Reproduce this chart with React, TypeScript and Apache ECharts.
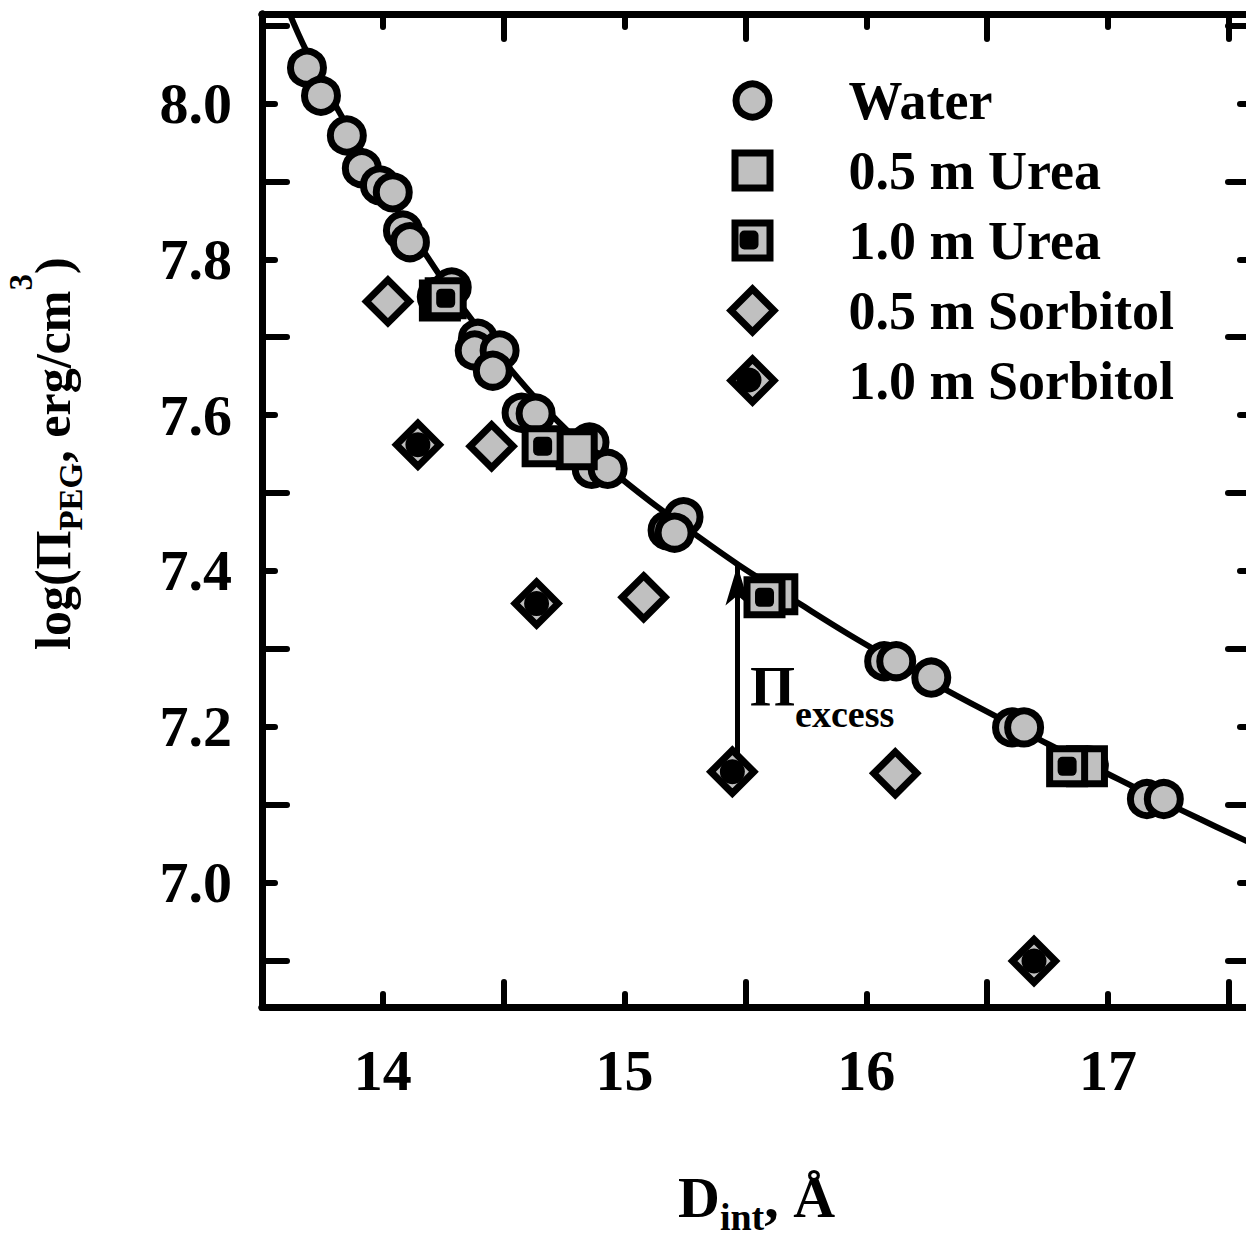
import React, { useEffect, useRef } from 'react';
import * as echarts from 'echarts';

const FONT = '"Liberation Serif", "Times New Roman", Times, serif';
const GRAY = '#c0c0c0';

// ---- data ----
const WATER_X = [13.686, 13.744, 13.851, 13.913, 13.988, 14.041, 14.083, 14.112, 14.223, 14.285, 14.393, 14.38, 14.483, 14.455, 14.574, 14.632, 14.855, 14.864, 14.93, 15.178, 15.244, 15.207, 16.074, 16.124, 16.269, 16.603, 16.653, 16.921, 17.161, 17.231];
const WATER_Y = [8.046, 8.01, 7.959, 7.917, 7.895, 7.886, 7.837, 7.822, 7.752, 7.764, 7.698, 7.683, 7.683, 7.657, 7.603, 7.602, 7.565, 7.531, 7.531, 7.452, 7.469, 7.449, 7.284, 7.284, 7.263, 7.199, 7.199, 7.15, 7.107, 7.107];

const UREA05_X = [14.236, 14.802, 15.632, 16.913];
const UREA05_Y = [7.747, 7.556, 7.37, 7.149];
const UREA10_X = [14.26, 14.661, 15.579, 16.831];
const UREA10_Y = [7.75, 7.56, 7.366, 7.149];

const SORB05_X = [14.021, 14.45, 15.079, 16.12];
const SORB05_Y = [7.746, 7.56, 7.366, 7.14];
const SORB10_X = [14.145, 14.636, 15.446, 16.694];
const SORB10_Y = [7.562, 7.358, 7.142, 6.899];

const FIT_X = [13.595, 13.686, 13.851, 13.988, 14.112, 14.256, 14.401, 14.525, 14.649, 14.793, 14.938, 15.103, 15.269, 15.475, 15.723, 15.93, 16.136, 16.343, 16.55, 16.756, 16.963, 17.169, 17.376, 17.595];
const FIT_Y = [8.13, 8.066, 7.972, 7.9, 7.838, 7.77, 7.709, 7.66, 7.616, 7.571, 7.531, 7.49, 7.452, 7.407, 7.358, 7.318, 7.281, 7.245, 7.211, 7.177, 7.145, 7.113, 7.082, 7.05];

const ARROW_X = 15.467;
const ARROW_Y = [7.163, 7.407];

const X_MIN = 13.5, X_MAX = 17.6;
const Y_MIN = 6.84, Y_MAX = 8.115;
const X_LABELS = [14, 15, 16, 17];
const X_MAJOR = [14.5, 15.5, 16.5, 17.5];
const Y_LABELS = [7.0, 7.2, 7.4, 7.6, 7.8, 8.0];
const Y_MAJOR = [6.9, 7.1, 7.3, 7.5, 7.7, 7.9, 8.1];

const zip = (xs: number[], ys: number[]) => xs.map((x, i) => [x, ys[i]]);

let ctx: CanvasRenderingContext2D | null = null;
const measure = (t: string, size: number) => {
  if (!ctx) ctx = document.createElement('canvas').getContext('2d');
  ctx!.font = `bold ${size}px ${FONT}`;
  return ctx!.measureText(t).width;
};

const K = 0.34; // baseline offset from middle
type Piece = { t: string; s: number; dv: number };
const runText = (pieces: Piece[], x0: number, base: number) => {
  let u = x0;
  return pieces.map((p) => {
    const el = {
      type: 'text',
      x: u,
      y: base + p.dv - K * p.s,
      silent: true,
      style: {
        text: p.t,
        fontFamily: FONT,
        fontWeight: 'bold',
        fontSize: p.s,
        fill: '#000',
        align: 'left',
        verticalAlign: 'middle',
      },
    };
    u += measure(p.t, p.s);
    return el;
  });
};

const axisCommon = (min: number, max: number, position: string, long: boolean, ticks: number[], labels: number[] | null, isX: boolean) => ({
  type: 'value',
  min,
  max,
  position,
  axisLine: { show: true, onZero: false, lineStyle: { color: '#000', width: 7 } },
  axisTick: {
    show: true,
    inside: true,
    length: long ? 25 : 13,
    customValues: ticks,
    lineStyle: { color: '#000', width: 6, cap: 'round' },
  },
  axisLabel: labels
    ? {
        show: true,
        customValues: labels,
        fontFamily: FONT,
        fontWeight: 'bold',
        fontSize: 58,
        color: '#000',
        margin: isX ? 34 : 30,
        formatter: (v: number) => (isX ? String(v) : v.toFixed(1)),
      }
    : { show: false },
  splitLine: { show: false },
});

const legendRow = (name: string, w: number, rowY: number, showText: boolean) => ({
  show: true,
  orient: 'horizontal',
  left: 749 - w / 2,
  top: rowY - (showText ? Math.max(w, 53) : w) / 2,
  itemWidth: w,
  itemHeight: w,
  itemGap: 0,
  padding: 0,
  selectedMode: false,
  data: [name],
  formatter: showText ? undefined : () => '',
  itemStyle: showText ? { borderColor: '#000', borderWidth: 7 } : { borderWidth: 0 },
  textStyle: {
    fontFamily: FONT,
    fontWeight: 'bold',
    fontSize: 54,
    color: '#000',
    lineHeight: w,
    padding: [0, 0, 0, Math.max(0, 845 - (749 + w / 2) - 5)],
  },
});

function buildOption() {
  const xTitle = runText(
    [
      { t: 'D', s: 58, dv: 0 },
      { t: 'int', s: 38, dv: 13 },
      { t: ', Å', s: 58, dv: 0 },
    ],
    678,
    1217
  );
  const yTitleChildren = runText(
    [
      { t: 'log(Π', s: 50, dv: 0 },
      { t: 'PEG', s: 33, dv: 12 },
      { t: ', erg/cm', s: 50, dv: 0 },
      { t: '3', s: 33, dv: -38 },
      { t: ')', s: 50, dv: 0 },
    ],
    0,
    0
  );
  const piText = runText(
    [
      { t: 'Π', s: 58, dv: 0 },
      { t: 'excess', s: 38, dv: 21 },
    ],
    750,
    706
  );

  const sym = (name: string, xs: number[], ys: number[], symbol: string, size: number, z: number) => ({
    name,
    type: 'scatter',
    data: zip(xs, ys),
    symbol,
    symbolSize: size,
    itemStyle: { color: GRAY, borderColor: '#000', borderWidth: 7, opacity: 1 },
    z,
  });
  const dot = (name: string, xs: number[], ys: number[], symbol: string, size: number) => ({
    name,
    type: 'scatter',
    data: zip(xs, ys),
    symbol,
    symbolSize: size,
    itemStyle: { color: '#000', borderWidth: 0, opacity: 1 },
    z: 5,
  });

  return {
    animation: false,
    backgroundColor: '#fff',
    grid: { left: 262, right: 27, top: 14, bottom: 230, containLabel: false },
    xAxis: [
      axisCommon(X_MIN, X_MAX, 'bottom', true, X_MAJOR, null, true),
      axisCommon(X_MIN, X_MAX, 'bottom', false, X_LABELS, X_LABELS, true),
      axisCommon(X_MIN, X_MAX, 'top', true, X_MAJOR, null, true),
      axisCommon(X_MIN, X_MAX, 'top', false, X_LABELS, null, true),
    ],
    yAxis: [
      axisCommon(Y_MIN, Y_MAX, 'left', true, Y_MAJOR, null, false),
      axisCommon(Y_MIN, Y_MAX, 'left', false, Y_LABELS, Y_LABELS, false),
      axisCommon(Y_MIN, Y_MAX, 'right', true, Y_MAJOR, null, false),
      axisCommon(Y_MIN, Y_MAX, 'right', false, Y_LABELS, null, false),
    ],
    legend: [
      legendRow('Water', 33, 100, true),
      legendRow('0.5 m Urea', 35, 170, true),
      legendRow('1.0 m Urea', 35, 240, true),
      legendRow('1.0 m Urea center', 19, 240, false),
      legendRow('0.5 m Sorbitol', 43, 310, true),
      legendRow('1.0 m Sorbitol', 43, 380, true),
      legendRow('1.0 m Sorbitol center', 25, 380, false),
    ],
    series: [
      {
        name: 'Fit',
        type: 'line',
        data: zip(FIT_X, FIT_Y),
        smooth: 0.4,
        showSymbol: false,
        symbol: 'none',
        lineStyle: { color: '#000', width: 6 },
        z: 1,
        silent: true,
        markLine: {
          silent: true,
          symbol: ['none', 'arrow'],
          symbolSize: [18, 40],
          label: { show: false },
          lineStyle: { color: '#000', width: 5, type: 'solid' },
          data: [[{ coord: [ARROW_X, ARROW_Y[0]] }, { coord: [ARROW_X, ARROW_Y[1]] }]],
        },
      },
      sym('Water', WATER_X, WATER_Y, 'circle', 33, 3),
      sym('0.5 m Urea', UREA05_X, UREA05_Y, 'rect', 35, 3),
      sym('1.0 m Urea', UREA10_X, UREA10_Y, 'rect', 35, 4),
      dot('1.0 m Urea center', UREA10_X, UREA10_Y, 'roundRect', 19),
      sym('0.5 m Sorbitol', SORB05_X, SORB05_Y, 'diamond', 43, 3),
      sym('1.0 m Sorbitol', SORB10_X, SORB10_Y, 'diamond', 43, 3),
      dot('1.0 m Sorbitol center', SORB10_X, SORB10_Y, 'circle', 25),
    ],
    graphic: [
      ...xTitle,
      { type: 'group', x: 70, y: 650, rotation: Math.PI / 2, children: yTitleChildren },
      ...piText,
    ],
  };
}

export default function App() {
  const ref = useRef<HTMLDivElement>(null);
  useEffect(() => {
    if (!ref.current) return;
    const chart = echarts.init(ref.current, null, { renderer: 'svg' });
    chart.setOption(buildOption() as any);
    return () => chart.dispose();
  }, []);
  return (
    <div style={{ position: 'absolute', left: 0, top: 0, width: 1246, height: 1237, overflow: 'hidden', background: '#fff' }}>
      <div ref={ref} style={{ width: 1280, height: 1237 }} />
    </div>
  );
}
